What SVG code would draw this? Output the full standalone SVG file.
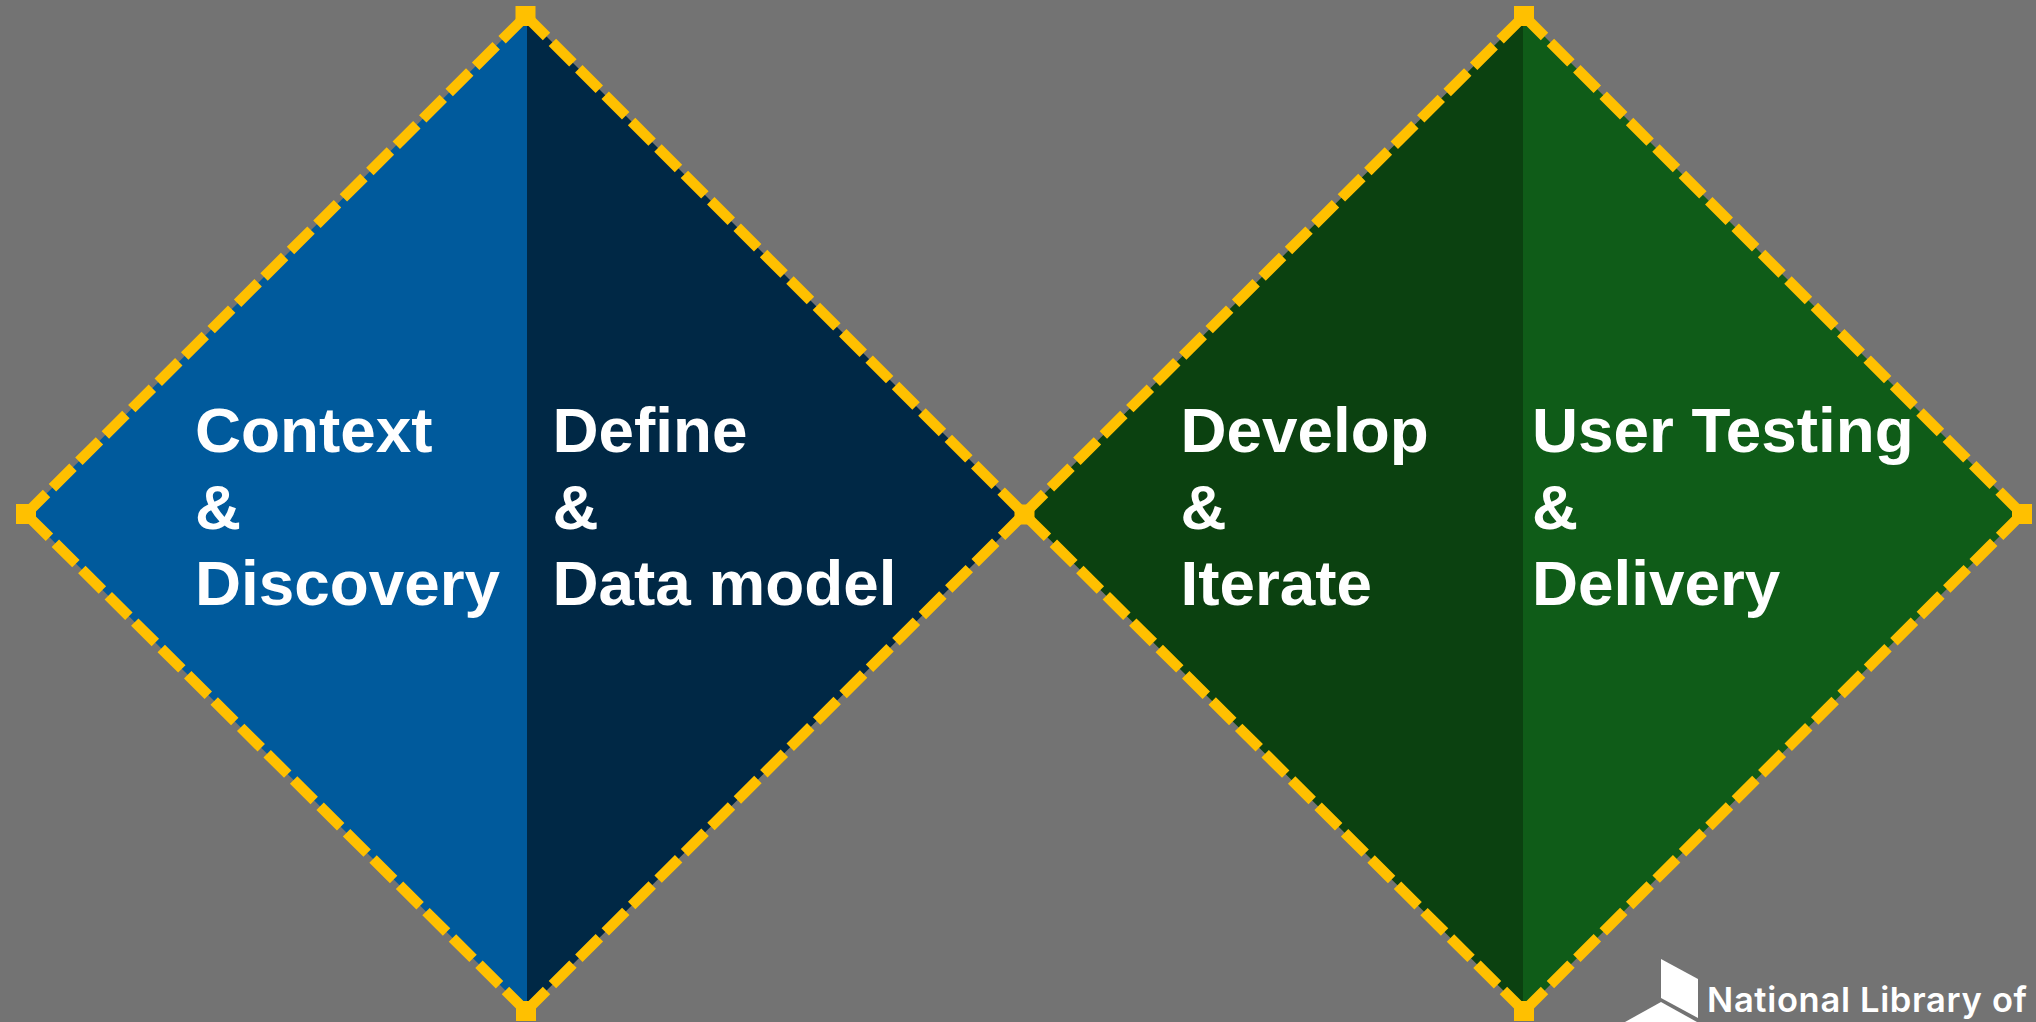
<svg xmlns="http://www.w3.org/2000/svg" width="2036" height="1022" viewBox="0 0 2036 1022">
<style>
.bg{fill:#737373}
.t{font-family:"Liberation Sans",Arial,sans-serif;font-weight:700;font-size:63.8px;fill:#fff}
.e{stroke:#FFC000;stroke-width:10.5;stroke-dasharray:29 8.33;fill:none}
.h{fill:#FFC000}
.logo{font-family:Inter,"Noto Sans",sans-serif;font-weight:600;font-size:34.5px;fill:#fff}
</style>
<defs>
<g id="hd"><rect x="-10" y="-10" width="20" height="20" class="h"/></g>
</defs>
<rect class="bg" width="2036" height="1022"/>
<g id="node-context">
<polygon points="527,17 526,16 26,514 526,1011 527,1010" fill="#005A9C"/>
<text class="t" x="195" y="452">Context</text><text class="t" x="195" y="528.5">&amp;</text><text class="t" x="195" y="605">Discovery</text>
</g>
<g id="node-define">
<polygon points="527,17 1024,514 527,1010" fill="#002845"/>
<text class="t" x="552.5" y="452">Define</text><text class="t" x="552.5" y="528.5">&amp;</text><text class="t" x="552.5" y="605">Data model</text>
</g>
<g id="node-develop">
<polygon points="1523,17 1524,16 1024,514 1524,1011 1523,1010" fill="#0B4110"/>
<text class="t" x="1180.5" y="452">Develop</text><text class="t" x="1180.5" y="528.5">&amp;</text><text class="t" x="1180.5" y="605">Iterate</text>
</g>
<g id="node-testing">
<polygon points="1523,15 1524,16 2022,514 1524,1011 1523,1010" fill="#0F5C18"/>
<text class="t" x="1532" y="452">User Testing</text><text class="t" x="1532" y="528.5">&amp;</text><text class="t" x="1532" y="605">Delivery</text>
</g>
<g id="connectors">
<path class="e" d="M26 514L526 16"/><path class="e" d="M526 16L1024 514"/><path class="e" d="M526 1011L1024 514"/><path class="e" d="M526 1011L26 514"/>
<path class="e" d="M1024 514L1524 16"/><path class="e" d="M1524 16L2022 514"/><path class="e" d="M1524 1011L2022 514"/><path class="e" d="M1524 1011L1024 514"/>
<use href="#hd" x="26" y="514"/><use href="#hd" x="525.5" y="16"/><use href="#hd" x="1024.5" y="514.5"/><use href="#hd" x="526" y="1011"/>
<use href="#hd" x="1524" y="16"/><use href="#hd" x="2022" y="514"/><use href="#hd" x="1524" y="1011"/>
</g>
<g id="logo">
<polygon points="1661,959 1698,979 1698,1018 1661,998" fill="#fff"/>
<polygon points="1625,1022 1661,1002 1697,1022" fill="#fff"/>
<text class="logo" x="1707" y="1012" textLength="320" lengthAdjust="spacing">National Library of</text>
</g>
</svg>
